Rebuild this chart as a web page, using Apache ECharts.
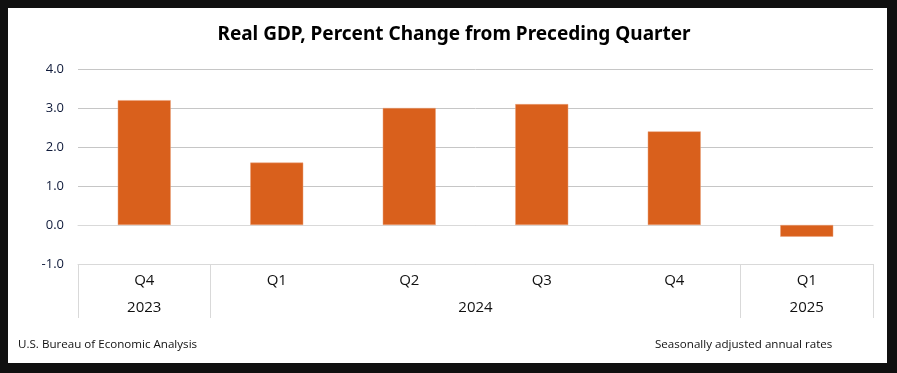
<!DOCTYPE html>
<html>
<head>
<meta charset="utf-8">
<script src="https://cdn.jsdelivr.net/npm/echarts@6/dist/echarts.min.js"></script>
<style>
html,body{margin:0;padding:0;background:#101010;}
#chart{width:897px;height:373px;}
</style>
</head>
<body>
<div id="chart"></div>
<script>
const quarters = ['Q4', 'Q1', 'Q2', 'Q3', 'Q4', 'Q1'];
const gdpChange = [3.2, 1.6, 3.0, 3.1, 2.4, -0.3];
const years = ['2023', '2024', '2025'];
const yearSpans = [1, 4, 1];
const yTicks = [-1, 0, 1, 2, 3, 4];

const yearCenters = [];
const yearBounds = [0];
let acc = 0;
yearSpans.forEach(function (s) { yearCenters.push(acc + s / 2); acc += s; yearBounds.push(acc); });

const chart = echarts.init(document.getElementById('chart'));
const textColor = '#111111';
const lineColor = '#d9d9d9';
chart.setOption({
  backgroundColor: '#101010',
  animation: false,
  graphic: [
    { type: 'rect', z: -100, silent: true, shape: { x: 8, y: 8, width: 879, height: 355 }, style: { fill: '#ffffff' } },
    { type: 'text', left: 18, top: 339, style: { text: 'U.S. Bureau of Economic Analysis', fontSize: 11.6, fontFamily: 'Open Sans', fill: '#111' } },
    { type: 'text', left: 655, top: 339, style: { text: 'Seasonally adjusted annual rates', fontSize: 11.6, fontFamily: 'Open Sans', fill: '#111' } }
  ],
  title: {
    text: 'Real GDP, Percent Change from Preceding Quarter',
    left: 449, textAlign: 'center', top: 20,
    textStyle: { fontFamily: 'Noto Sans', fontWeight: 'bold', fontSize: 19, color: '#000' }
  },
  grid: { left: 78, right: 24, top: 69, bottom: 109 },
  yAxis: {
    type: 'value', min: yTicks[0], max: yTicks[yTicks.length - 1], interval: 1,
    axisLine: { show: false }, axisTick: { show: false },
    splitLine: { lineStyle: { color: '#c6c6c6', width: 1 } },
    axisLabel: { margin: 14, fontSize: 13, fontFamily: 'Open Sans', color: '#0f1a3a', formatter: function (v) { return v.toFixed(1); } }
  },
  xAxis: [
    {
      type: 'category', data: quarters, position: 'bottom',
      axisLine: { onZero: true, lineStyle: { color: lineColor } },
      axisTick: { inside: true, length: 6, lineStyle: { color: lineColor } },
      axisLabel: { show: false }
    },
    {
      type: 'category', data: quarters, position: 'bottom',
      axisLine: { onZero: false, show: true, lineStyle: { color: lineColor } },
      axisTick: { length: 26, lineStyle: { color: lineColor } },
      axisLabel: { margin: 9, fontSize: 15, fontFamily: 'Open Sans', color: textColor }
    },
    {
      type: 'value', position: 'bottom', min: 0, max: quarters.length,
      axisLine: { onZero: false, show: false },
      splitLine: { show: false },
      axisTick: { show: true, length: 54, customValues: yearBounds, lineStyle: { color: lineColor } },
      axisLabel: { margin: 36, fontSize: 15, fontFamily: 'Open Sans', color: textColor, customValues: yearCenters,
        formatter: function (v) { return years[yearCenters.indexOf(v)]; } }
    }
  ],
  series: [{
    type: 'bar', xAxisIndex: 0, data: gdpChange, barWidth: '40%',
    itemStyle: { color: '#d9601c', borderColor: '#e8a07a', borderWidth: 0.5 }
  }]
});
</script>
</body>
</html>
